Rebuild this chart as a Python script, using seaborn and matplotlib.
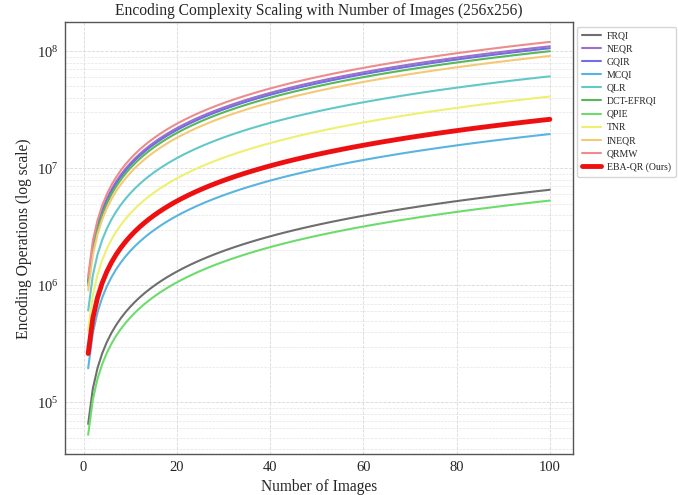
import numpy as np
import pandas as pd
import matplotlib
matplotlib.use("Agg")
from matplotlib import pyplot as plt
import seaborn as sns

# encoding operations per 256x256 image (ops grow linearly with images)
methods = ['FRQI', 'NEQR', 'GQIR', 'MCQI', 'QLR', 'DCT-EFRQI', 'QPIE',
           'TNR', 'INEQR', 'QRMW', 'EBA-QR (Ours)']
ops_per_image = [65536, 1.10e6, 1.06e6, 1.96e5, 6.1e5, 1.0e6, 5.3e4,
                 4.1e5, 9.1e5, 1.20e6, 2.62e5]
n_images = np.arange(1, 101)

colors = ['#6e6e6e', '#a070c8', '#6f6fe0', '#5ab4e0', '#62c8c8', '#58b858',
          '#6cdc6c', '#eef070', '#f5c878', '#ec8c8c', '#ee1010']
widths = [1.5] * 10 + [3.5]

rows = []
for m, c in zip(methods, ops_per_image):
    for n in n_images:
        rows.append({'images': n, 'ops': c * n, 'method': m})
df = pd.DataFrame(rows)

sns.set_style('whitegrid')
plt.rcParams['font.family'] = ['Liberation Serif', 'DejaVu Serif']
plt.rcParams['mathtext.fontset'] = 'stix'

fig, ax = plt.subplots(figsize=[6.78, 4.95], dpi=100)
fig.subplots_adjust(left=0.096, right=0.845, top=0.955, bottom=0.082)

for m, col, lw in zip(methods, colors, widths):
    sns.lineplot(data=df[df['method'] == m], x='images', y='ops', color=col,
                 linewidth=lw, label=m, ax=ax)

ax.set_yscale('log')
ax.margins(x=0.05, y=0.05)
ax.grid(which='major', linestyle='--', linewidth=0.6, color='#d8d8d8')
ax.grid(which='minor', linestyle='--', linewidth=0.5, color='#e4e4e4')
ax.tick_params(axis='both', labelsize=10.5, length=3, pad=2, color='#555555')
ax.tick_params(which='minor', length=2, color='#555555')
for sp in ax.spines.values():
    sp.set_color('#555555')
    sp.set_linewidth(1.0)

ax.set_title('Encoding Complexity Scaling with Number of Images (256x256)', fontsize=11.2, pad=5)
ax.set_xlabel('Number of Images', fontsize=11.2, labelpad=3)
ax.set_ylabel('Encoding Operations (log scale)', fontsize=11.2, labelpad=3)

leg = ax.legend(loc='upper left', bbox_to_anchor=(1.008, 0.99), borderaxespad=0,
                fontsize=7, frameon=True, handlelength=2.0, handletextpad=0.6,
                borderpad=0.5, labelspacing=0.42)
leg.get_frame().set_edgecolor('#cccccc')

plt.savefig('out.png', dpi=100)
